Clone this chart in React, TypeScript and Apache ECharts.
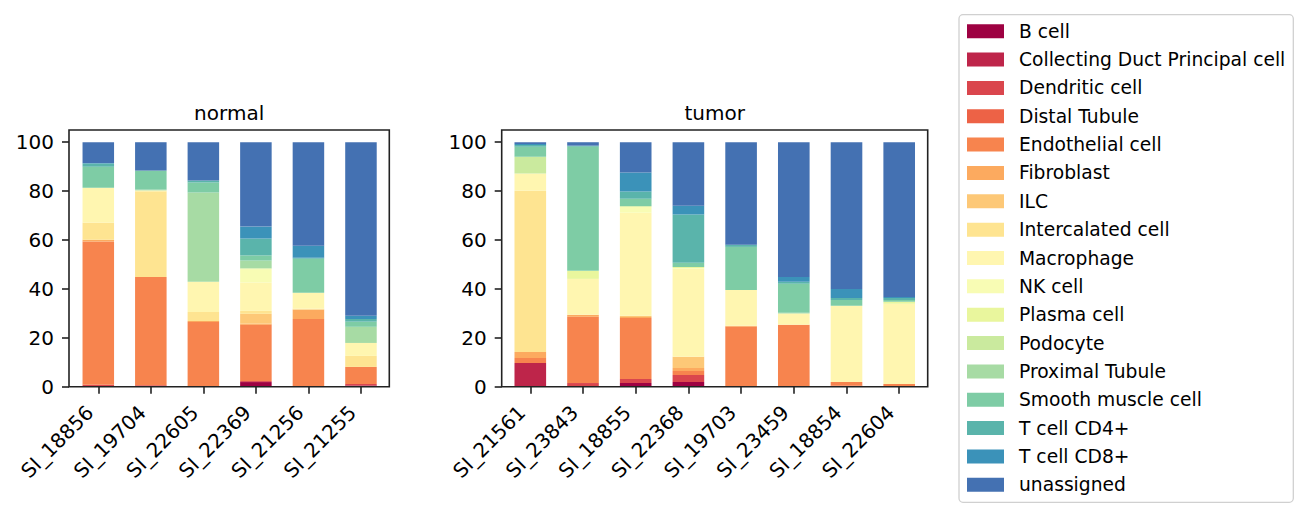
import React, { useEffect, useRef } from "react";
import * as echarts from "echarts";

const FONT = "DejaVu Sans";

const CELL_TYPES = [
  "B cell",
  "Collecting Duct Principal cell",
  "Dendritic cell",
  "Distal Tubule",
  "Endothelial cell",
  "Fibroblast",
  "ILC",
  "Intercalated cell",
  "Macrophage",
  "NK cell",
  "Plasma cell",
  "Podocyte",
  "Proximal Tubule",
  "Smooth muscle cell",
  "T cell CD4+",
  "T cell CD8+",
  "unassigned",
];

// matplotlib "Spectral" sampled at i/17
const COLORS = [
  "#9e0142", "#be254a", "#da464d", "#ed6246", "#f7844e", "#fcaa5f",
  "#fdc877", "#fee491", "#fff6b0", "#f8fcb4", "#e9f69d", "#caea9e",
  "#a7dba4", "#7ecca5", "#5ab4ab", "#3b92b9", "#4471b2",
];

const NORMAL_SAMPLES = ["SI_18856", "SI_19704", "SI_22605", "SI_22369", "SI_21256", "SI_21255"];
const TUMOR_SAMPLES = ["SI_21561", "SI_23843", "SI_18855", "SI_22368", "SI_19703", "SI_23459", "SI_18854", "SI_22604"];
const Y_TICKS = [0, 20, 40, 60, 80, 100];

// percentages per sample, in CELL_TYPES order
const SI_18856 = [0.3, 0, 0.5, 0, 58.6, 0.7, 0, 7.0, 14.3, 0, 0, 0, 0, 8.6, 1.3, 0.2, 8.5];
const SI_19704 = [0.2, 0, 0.4, 0, 44.3, 0, 0, 35.0, 0.4, 0, 0, 0, 0.3, 7.8, 0, 0, 11.6];
const SI_22605 = [0, 0, 0, 0, 26.5, 0.4, 0, 3.7, 12.3, 0, 0, 0, 36.5, 4.1, 0.8, 0, 15.7];
const SI_22369 = [1.9, 0, 0.4, 0, 23.0, 0.5, 4.0, 1.2, 11.6, 5.5, 0.2, 0.2, 3.1, 2.1, 6.9, 4.9, 34.5];
const SI_21256 = [0, 0, 0, 0, 27.7, 3.9, 0, 0.3, 6.5, 0, 0, 0, 0, 13.9, 0.4, 5.0, 42.3];
const SI_21255 = [0.5, 0, 0.6, 0, 7.0, 0, 0, 4.5, 5.3, 0, 0, 0, 6.6, 2.1, 1.1, 1.3, 71.0];

const SI_21561 = [0, 9.7, 0, 0, 2.0, 2.5, 0, 66.0, 7.0, 0, 0, 6.9, 0, 4.0, 0.8, 0.4, 0.7];
const SI_23843 = [0, 0, 1.5, 0, 27.1, 0.8, 0, 0, 14.7, 0, 3.3, 0, 0, 50.8, 0.4, 0, 1.4];
const SI_18855 = [1.5, 0, 1.6, 0, 25.0, 0.4, 0.5, 0, 42.2, 2.4, 0, 0.3, 0, 3.0, 2.9, 7.8, 12.4];
const SI_22368 = [1.9, 0, 2.9, 0, 1.6, 1.3, 4.5, 0, 36.0, 0.4, 0.4, 0, 0, 1.7, 19.7, 3.6, 26.0];
const SI_19703 = [0, 0, 0, 0, 24.5, 0.4, 0, 0, 14.7, 0, 0, 0, 0, 17.6, 0.9, 0, 41.9];
const SI_23459 = [0, 0, 0, 0, 25.3, 0, 0, 0, 4.6, 0, 0, 0, 0.3, 11.9, 0.8, 2.0, 55.1];
const SI_18854 = [0, 0, 0.4, 0, 1.5, 0, 0, 0, 31.2, 0, 0, 0, 0, 2.4, 0.8, 3.7, 60.0];
const SI_22604 = [0, 0, 0.3, 0, 0.8, 0, 0, 0, 32.8, 0, 0.8, 0, 0, 0.8, 0.8, 0.4, 63.3];

const NORMAL_VALUES = [SI_18856, SI_19704, SI_22605, SI_22369, SI_21256, SI_21255];
const TUMOR_VALUES = [SI_21561, SI_23843, SI_18855, SI_22368, SI_19703, SI_23459, SI_18854, SI_22604];

export default function App() {
  const ref = useRef<HTMLDivElement>(null);

  useEffect(() => {
    const chart = echarts.init(ref.current!, null, { renderer: "svg", width: 1308, height: 518 });
    const TOP = 130;
    const BOTTOM = 386.7;
    const panels = [
      { samples: NORMAL_SAMPLES, values: NORMAL_VALUES, left: 72.03, width: 315.2, frameLeft: 69, frameRight: 389.3, title: "normal", stack: "normal" },
      { samples: TUMOR_SAMPLES, values: TUMOR_VALUES, left: 503.95, width: 421.6, frameLeft: 501.7, frameRight: 927.7, title: "tumor", stack: "tumor" },
    ];
    const axisColor = "#222222";

    const grid = panels.map((p) => ({ left: p.left, top: TOP, width: p.width, height: BOTTOM - TOP }));
    const xAxis = panels.map((p, i) => ({
      type: "category",
      gridIndex: i,
      data: p.samples,
      axisLine: { show: false },
      axisTick: { show: true, alignWithLabel: true, length: 7, lineStyle: { color: axisColor, width: 1.6 } },
      axisLabel: {
        interval: 0,
        rotate: 45,
        fontSize: 20,
        fontFamily: FONT,
        color: "#000",
        margin: 14,
        padding: [0, 12, 0, 0],
      },
      splitLine: { show: false },
    }));
    const yAxis = panels.map((p, i) => ({
      type: "value",
      gridIndex: i,
      min: 0,
      max: 105,
      offset: p.left - p.frameLeft,
      axisLine: { show: false },
      splitLine: { show: false },
      axisTick: { show: true, length: 7, lineStyle: { color: axisColor, width: 1.6 }, customValues: Y_TICKS },
      axisLabel: { customValues: Y_TICKS, fontSize: 20, fontFamily: FONT, color: "#000", margin: 15 },
    }));

    const series: any[] = [];
    panels.forEach((p, gi) => {
      CELL_TYPES.forEach((name, k) => {
        series.push({
          type: "bar",
          name,
          stack: p.stack,
          xAxisIndex: gi,
          yAxisIndex: gi,
          barWidth: "60%",
          itemStyle: { color: COLORS[k] },
          data: p.values.map((row) => row[k]),
        });
      });
    });

    const graphic: any[] = [];
    panels.forEach((p) => {
      graphic.push({
        type: "rect",
        z: 100,
        silent: true,
        shape: { x: p.frameLeft, y: TOP, width: p.frameRight - p.frameLeft, height: BOTTOM - TOP },
        style: { fill: "none", stroke: axisColor, lineWidth: 1.6 },
      });
      graphic.push({
        type: "text",
        z: 100,
        x: (p.frameLeft + p.frameRight) / 2,
        y: 112.5,
        style: { text: p.title, fontSize: 20, fontFamily: FONT, fill: "#000", align: "center", verticalAlign: "middle" },
      });
    });

    chart.setOption({
      animation: false,
      backgroundColor: "#ffffff",
      grid,
      xAxis,
      yAxis,
      series,
      graphic,
      legend: {
        orient: "vertical",
        left: 959,
        top: 14.7,
        itemWidth: 37,
        itemHeight: 14,
        itemGap: 9.35,
        icon: "rect",
        padding: [7, 8, 8, 8],
        borderColor: "#d0d0d0",
        borderWidth: 1.3,
        borderRadius: 4,
        backgroundColor: "#ffffff",
        selectedMode: false,
        itemStyle: { borderWidth: 0 },
        textStyle: { fontSize: 18.7, fontFamily: FONT, color: "#000", padding: [0, 0, 0, 10], lineHeight: 19 },
        data: CELL_TYPES,
      },
    });

    return () => chart.dispose();
  }, []);

  return (
    <div
      ref={ref}
      style={{ position: "fixed", left: 0, top: 0, width: 1308, height: 518, background: "#fff" }}
    />
  );
}
